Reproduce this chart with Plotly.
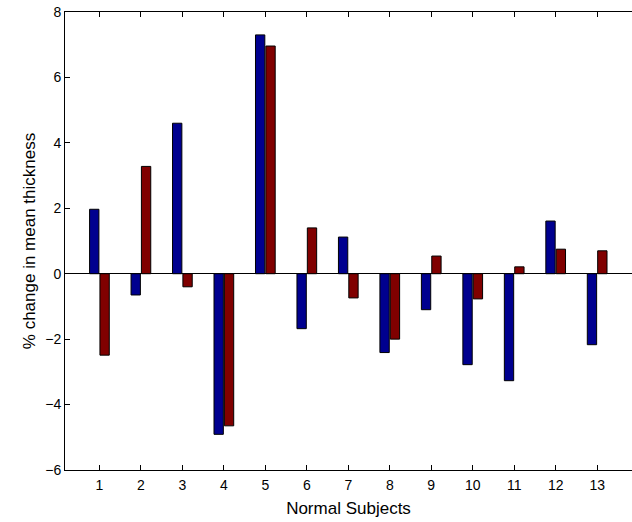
import plotly.graph_objects as go

subjects = list(range(1, 14))
tick_labels = [str(s) for s in subjects]
series_a = [1.97, -0.65, 4.60, -4.91, 7.30, -1.68, 1.12, -2.41, -1.10, -2.78, -3.27, 1.61, -2.17]
series_b = [-2.49, 3.28, -0.40, -4.65, 6.96, 1.40, -0.74, -2.00, 0.54, -0.77, 0.21, 0.75, 0.70]

fig = go.Figure()
fig.add_trace(go.Bar(x=subjects, y=series_a, marker=dict(color="#00008F", line=dict(color="black", width=1)), showlegend=False))
fig.add_trace(go.Bar(x=subjects, y=series_b, marker=dict(color="#800000", line=dict(color="black", width=1)), showlegend=False))

font = dict(family="Liberation Sans, Arial, sans-serif", size=14, color="black")
fig.update_layout(
    width=632, height=522,
    margin=dict(l=65, r=0, t=12, b=52),
    paper_bgcolor="white", plot_bgcolor="white",
    barmode="group", bargap=0.5, bargroupgap=0.1,
    font=font,
    xaxis=dict(range=[0.17, 13.84], tickvals=subjects, ticktext=tick_labels,
               ticks="inside", ticklen=5, tickcolor="black", showline=True, linecolor="black",
               linewidth=1, mirror="ticks", showgrid=False, zeroline=False,
               ticklabelstandoff=2,
               title=dict(text="Normal Subjects", standoff=10), tickfont=font),
    yaxis=dict(range=[-6, 8], tickvals=[-6, -4, -2, 0, 2, 4, 6, 8],
               ticks="inside", ticklen=5, tickcolor="black", showline=True, linecolor="black",
               linewidth=1, showgrid=False, zeroline=True, zerolinecolor="black", zerolinewidth=1,
               title=dict(text="% change in mean thickness", standoff=5), tickfont=font),
)
fig.write_html("out.html")
